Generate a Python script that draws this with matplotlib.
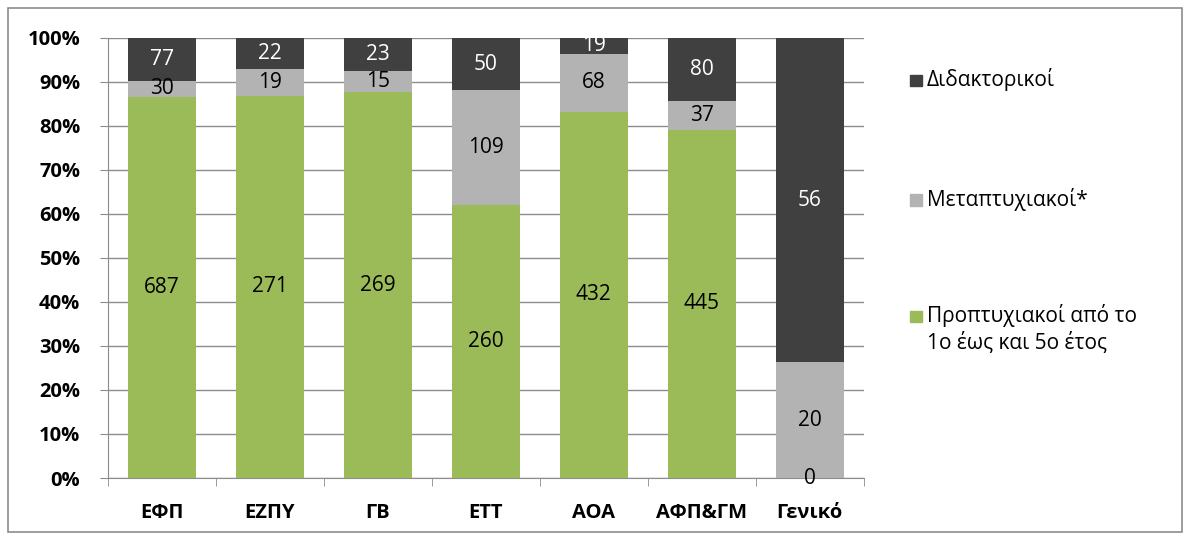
import numpy as np
import matplotlib
matplotlib.use('Agg')
import matplotlib.pyplot as plt
from matplotlib.patches import Rectangle

plt.rcParams['font.family'] = ['Open Sans', 'DejaVu Sans']

categories = ['ΕΦΠ', 'ΕΖΠΥ', 'ΓΒ', 'ΕΤΤ', 'ΑΟΑ', 'ΑΦΠ&ΓΜ', 'Γενικό']
undergrad = [687, 271, 269, 260, 432, 445, 0]
master = [30, 19, 15, 109, 68, 37, 20]
phd = [77, 22, 23, 50, 19, 80, 56]

series = [
    ('Προπτυχιακοί από το\n1ο έως και 5ο έτος', undergrad, '#9BBB59', 'black'),
    ('Μεταπτυχιακοί*', master, '#B3B3B3', 'black'),
    ('Διδακτορικοί', phd, '#404040', 'white'),
]

totals = np.array(undergrad) + np.array(master) + np.array(phd)

fig = plt.figure(figsize=(11.9, 5.4), dpi=100)
fig.patches.append(Rectangle((0.007, 0.015), 0.986, 0.97, transform=fig.transFigure,
                             fill=False, edgecolor='#8C8C8C', linewidth=1.2))
ax = fig.add_axes([0.0908, 0.1148, 0.635, 0.815])

x = np.arange(len(categories))
bottom = np.zeros(len(categories))
for name, vals, col, tcol in series:
    share = np.array(vals) / totals * 100
    ax.bar(x, share, 0.63, bottom=bottom, color=col, zorder=3)
    for i in range(len(categories)):
        if vals[i] == 0 and categories[i] != 'Γενικό':
            continue
        ax.text(x[i], bottom[i] + share[i] / 2, str(vals[i]), ha='center', va='center',
                fontsize=15, color=tcol, zorder=4)
    bottom += share

ax.set_xlim(-0.5, len(categories) - 0.5)
ax.set_ylim(0, 100)
ax.set_yticks(np.arange(0, 101, 10))
ax.set_yticklabels([f'{v}%' for v in range(0, 101, 10)], fontsize=14.5, fontweight='bold')
ax.set_xticks(x)
ax.set_xticklabels(categories, fontsize=14.5, fontweight='bold')
ax.tick_params(axis='x', length=0, pad=18)
ax.tick_params(axis='y', length=6, color='#8C8C8C', pad=14)
ax.set_xticks(np.arange(-0.5, len(categories)), minor=True)
ax.tick_params(axis='x', which='minor', length=6, color='#8C8C8C', direction='out')
ax.grid(axis='y', color='#8C8C8C', linewidth=1, zorder=0)
for s in ['top', 'right']:
    ax.spines[s].set_visible(False)
ax.spines['left'].set_color('#8C8C8C')
ax.spines['bottom'].set_color('#8C8C8C')

# legend
leg_items = [(series[2], 0.852), (series[1], 0.63), (series[0], 0.415)]
for (name, vals, col, tcol), yy in leg_items:
    fig.patches.append(Rectangle((0.765, yy - 0.011), 0.0095, 0.021,
                                 transform=fig.transFigure, color=col))
    fig.text(0.779, yy, name.split('\n')[0], fontsize=15, va='center')
    if '\n' in name:
        fig.text(0.779, yy - 0.05, name.split('\n')[1], fontsize=15, va='center')

fig.savefig('out.png', dpi=100)
